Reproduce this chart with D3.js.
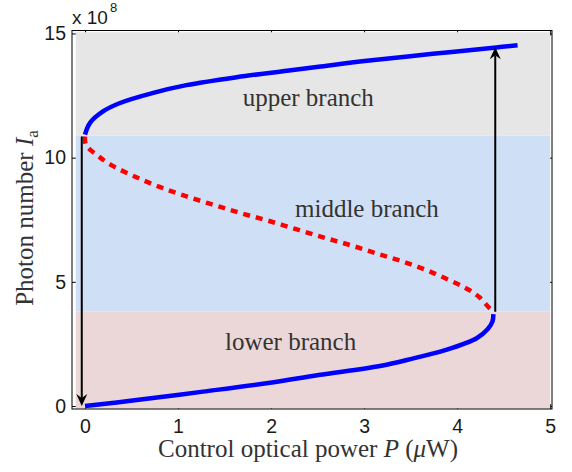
<!DOCTYPE html>
<html>
<head>
<meta charset="utf-8" />
<script src="https://d3js.org/d3.v7.min.js"></script>
<style>
body { margin: 0; background: white; }
.tick text { font-family: "Liberation Sans", Arial, sans-serif; font-size: 19.5px; fill: #1a1a1a; }
.lbl { font-family: "Liberation Serif", serif; fill: #333; }
</style>
</head>
<body>
<div id="chart"></div>
<script>
// branches (P in uW, photon number in units of 1e8)
var upperP = [0.00, 0.054, 0.197, 0.376, 0.734, 1.09, 1.63, 2.17, 2.51, 3.03, 3.74, 4.42, 4.65];
var upperI = [10.93, 11.40, 11.87, 12.20, 12.61, 12.92, 13.24, 13.50, 13.66, 13.90, 14.18, 14.44, 14.53];

var middleP = [0.00, 0.01, 0.14, 0.27, 0.54, 0.81, 1.10, 1.39, 1.68, 1.97, 2.27, 2.56, 2.85, 3.13, 3.42, 3.71, 3.99, 4.13, 4.24, 4.35, 4.39];
var middleI = [10.85, 10.51, 10.07, 9.73, 9.23, 8.81, 8.43, 8.09, 7.76, 7.46, 7.12, 6.79, 6.48, 6.15, 5.81, 5.41, 4.94, 4.67, 4.38, 3.93, 3.80];

var lowerP = [4.39, 4.38, 4.33, 4.21, 3.88, 3.53, 3.17, 2.51, 1.99, 1.27, 0.555, 0.00];
var lowerI = [3.70, 3.40, 3.10, 2.73, 2.26, 1.92, 1.61, 1.25, 0.94, 0.58, 0.24, 0.00];

// shaded regions: [bottom, top]
var regionBounds = [[-0.1, 3.80], [3.80, 10.89], [10.89, 15.05]];
var regionColors = ["#ebd7d7", "#cfe0f6", "#e6e6e6"];

var xTicks = [0, 1, 2, 3, 4, 5];
var yTicks = [0, 5, 10, 15];

var branchNames = ["upper branch", "middle branch", "lower branch"];
var branchP = [2.40, 3.03, 2.21];
var branchI = [12.08, 7.60, 2.26];

// jumps: [P, from I, to I]
var jumps = [[-0.035, 10.85, 0.0], [4.41, 3.80, 14.45]];

var margin = {top: 30.5, right: 20, bottom: 63, left: 72},
    width = 552 - margin.left,
    height = 409 - margin.top;

var x = d3.scaleLinear().domain([-0.14, 5.02]).range([0, width]);
var y = d3.scaleLinear().domain([-0.12, 15.12]).range([height, 0]);

var svg = d3.select("#chart").append("svg")
    .attr("width", 572)
    .attr("height", 472);

var g = svg.append("g")
    .attr("transform", "translate(" + margin.left + "," + margin.top + ")");

// axes with inward ticks
g.append("g").attr("class", "x axis")
    .attr("transform", "translate(0," + height + ")")
    .call(d3.axisBottom(x).tickValues(xTicks).tickFormat(d3.format("d"))
        .tickSizeInner(-5).tickSizeOuter(0).tickPadding(10));
g.append("g").attr("class", "x2 axis")
    .call(d3.axisTop(x).tickValues(xTicks).tickSizeInner(-5).tickSizeOuter(0).tickFormat(""));
g.append("g").attr("class", "y axis")
    .call(d3.axisLeft(y).tickValues(yTicks).tickFormat(d3.format("d"))
        .tickSizeInner(-5).tickSizeOuter(0).tickPadding(6));
g.append("g").attr("class", "y2 axis")
    .attr("transform", "translate(" + width + ",0)")
    .call(d3.axisRight(y).tickValues(yTicks).tickSizeInner(-5).tickSizeOuter(0).tickFormat(""));
g.selectAll(".axis .domain").remove();
g.selectAll(".axis line").style("stroke", "#000");

// shaded regions
g.selectAll(".region")
    .data(regionBounds)
    .enter().append("rect")
    .attr("class", "region")
    .attr("x", x(-0.1))
    .attr("width", x(5.0) - x(-0.1))
    .attr("y", function(d) { return y(d[1]); })
    .attr("height", function(d) { return y(d[0]) - y(d[1]); })
    .style("fill", function(d, i) { return regionColors[i]; });

g.append("rect")
    .attr("width", width).attr("height", height)
    .style("fill", "none").style("stroke", "#000").style("stroke-width", 1);

// branch labels
g.selectAll(".blabel")
    .data(branchNames)
    .enter().append("text")
    .attr("class", "lbl")
    .attr("x", function(d, i) { return x(branchP[i]); })
    .attr("y", function(d, i) { return y(branchI[i]); })
    .attr("text-anchor", "middle")
    .style("font-size", "25px")
    .text(function(d) { return d; });

var line = d3.line()
    .x(function(d) { return x(d[0]); })
    .y(function(d) { return y(d[1]); })
    .curve(d3.curveCatmullRom);

function pts(px, py) { return px.map(function(p, i) { return [p, py[i]]; }); }

g.append("path").datum(pts(middleP, middleI))
    .attr("d", line)
    .style("fill", "none").style("stroke", "#ff0000")
    .style("stroke-width", 4.5).style("stroke-dasharray", "7,6");
g.append("path").datum(pts(upperP, upperI))
    .attr("d", line)
    .style("fill", "none").style("stroke", "#0000ff").style("stroke-width", 4.5);
g.append("path").datum(pts(lowerP, lowerI))
    .attr("d", line)
    .style("fill", "none").style("stroke", "#0000ff").style("stroke-width", 4.5);

// jump arrows
jumps.forEach(function(a) {
    var xp = x(a[0]), y0 = y(a[1]), y1 = y(a[2]);
    var dir = y1 > y0 ? 1 : -1;
    var hl = 12, hw = 5.5, notch = 4;
    g.append("line")
        .attr("x1", xp).attr("x2", xp)
        .attr("y1", y0).attr("y2", y1 - dir * (hl - notch))
        .style("stroke", "#000").style("stroke-width", 2);
    g.append("path")
        .attr("d", "M" + xp + "," + y1 +
            "L" + (xp - hw) + "," + (y1 - dir * hl) +
            "L" + xp + "," + (y1 - dir * (hl - notch)) +
            "L" + (xp + hw) + "," + (y1 - dir * hl) + "Z")
        .style("fill", "#000");
});

// exponent
var ex = svg.append("text")
    .attr("x", 72).attr("y", 24)
    .style("font-family", "Liberation Sans, Arial, sans-serif")
    .style("font-size", "19px").style("fill", "#1a1a1a");
ex.append("tspan").text("x 10");
ex.append("tspan").attr("dy", -12).attr("dx", 2).style("font-size", "13px").text("8");

// axis titles
var xl = svg.append("text")
    .attr("class", "lbl")
    .attr("x", 308).attr("y", 457)
    .attr("text-anchor", "middle")
    .style("font-size", "25px");
xl.append("tspan").text("Control optical power ");
xl.append("tspan").style("font-style", "italic").text("P");
xl.append("tspan").text(" (");
xl.append("tspan").style("font-style", "italic").text("\u03bc");
xl.append("tspan").text("W)");

var yl = svg.append("text")
    .attr("class", "lbl")
    .attr("transform", "translate(33,218) rotate(-90)")
    .attr("text-anchor", "middle")
    .style("font-size", "25px");
yl.append("tspan").text("Photon number ");
yl.append("tspan").style("font-style", "italic").text("I");
yl.append("tspan").attr("dy", 5).style("font-size", "17px").text("a");
</script>
</body>
</html>
